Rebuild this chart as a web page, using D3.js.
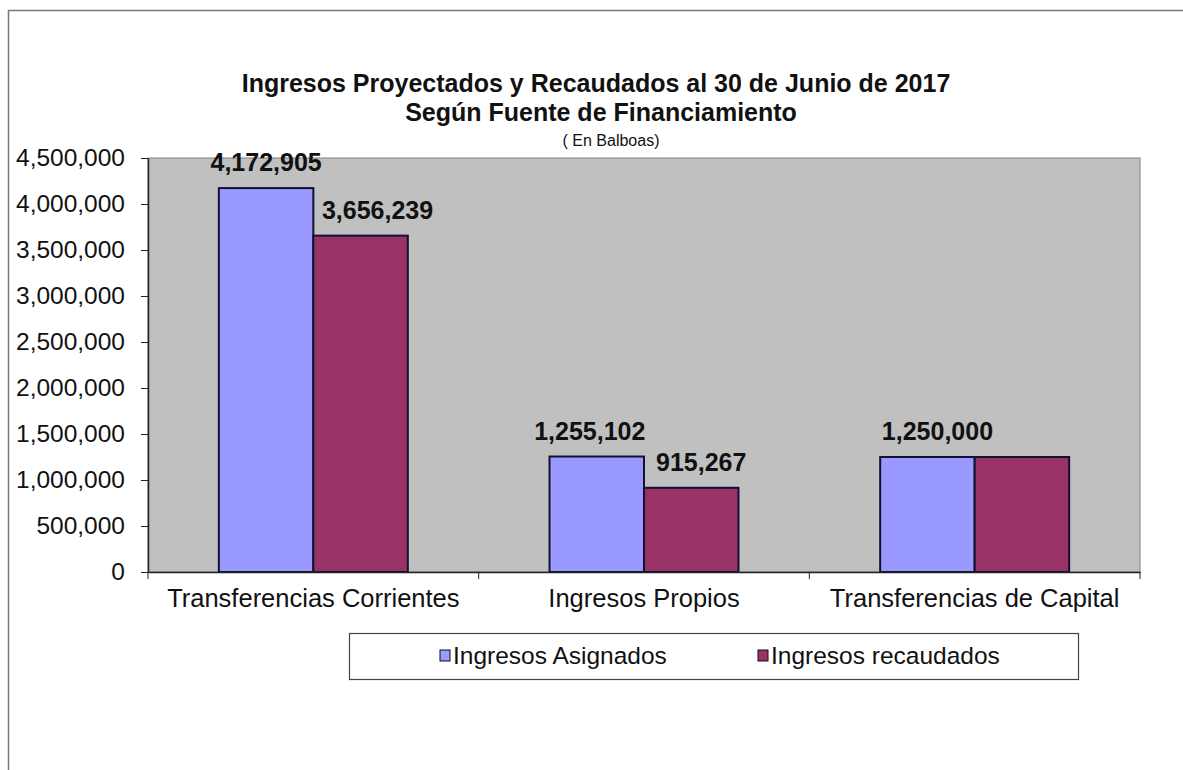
<!DOCTYPE html>
<html>
<head>
<meta charset="utf-8">
<script src="https://cdn.jsdelivr.net/npm/d3@7"></script>
<style>
  body { margin: 0; background: #fff; }
  text { font-family: "Liberation Sans", Arial, sans-serif; fill: #111; }
</style>
</head>
<body>
<svg id="chart"></svg>
<script>
const width = 1183;
const height = 770;
const margin = { top: 158, bottom: 198, left: 148, right: 43 };

// data
const categories = ["Transferencias Corrientes", "Ingresos Propios", "Transferencias de Capital"];
const seriesNames = ["Ingresos Asignados", "Ingresos recaudados"];
const asignados = [4172905, 1255102, 1250000];
const recaudados = [3656239, 915267, 1250000];
const yTicks = [0, 500000, 1000000, 1500000, 2000000, 2500000, 3000000, 3500000, 4000000, 4500000];
const colors = ["#9999FF", "#993366"];

const svg = d3.select("#chart")
    .attr("width", width)
    .attr("height", height);

// outer frame (left and top only visible)
svg.append("path")
    .attr("d", `M8.5,${height} V10.5 H${width}`)
    .attr("fill", "none")
    .attr("stroke", "#777")
    .attr("stroke-width", 1.5);

const x0 = d3.scaleBand()
    .domain(categories)
    .range([margin.left, width - margin.right])
    .paddingInner(0)
    .paddingOuter(0);

// Excel style gap width 150%
const x1 = d3.scaleBand()
    .domain(seriesNames)
    .range([0, x0.bandwidth()])
    .paddingInner(0)
    .paddingOuter(0.75);

const yScale = d3.scaleLinear()
    .domain([0, 4500000])
    .range([height - margin.bottom, margin.top]);

// plot area
svg.append("rect")
    .attr("x", margin.left)
    .attr("y", margin.top)
    .attr("width", width - margin.left - margin.right)
    .attr("height", yScale(0) - margin.top)
    .attr("fill", "#C0C0C0")
    .attr("stroke", "#808080")
    .attr("stroke-width", 1);

// titles
svg.append("text")
    .attr("x", 596).attr("y", 92)
    .attr("text-anchor", "middle")
    .attr("font-size", "25px").attr("font-weight", "bold")
    .text("Ingresos Proyectados y Recaudados al 30 de Junio de 2017");
svg.append("text")
    .attr("x", 601).attr("y", 121)
    .attr("text-anchor", "middle")
    .attr("font-size", "25px").attr("font-weight", "bold")
    .text("Según Fuente de Financiamiento");
svg.append("text")
    .attr("x", 611).attr("y", 146)
    .attr("text-anchor", "middle")
    .attr("font-size", "16px")
    .attr("fill", "#222")
    .text("( En Balboas)");

// bars
const rows = categories.map((c, i) => ({ cat: c, values: [asignados[i], recaudados[i]] }));

const groups = svg.append("g")
    .selectAll("g")
    .data(rows)
    .join("g")
    .attr("transform", d => `translate(${x0(d.cat)},0)`);

groups.selectAll("rect")
    .data(d => d.values.map((v, j) => ({ name: seriesNames[j], value: v, j: j })))
    .join("rect")
    .attr("x", d => x1(d.name))
    .attr("y", d => yScale(d.value))
    .attr("width", x1.bandwidth())
    .attr("height", d => yScale(0) - yScale(d.value))
    .attr("fill", d => colors[d.j])
    .attr("stroke", "#111133")
    .attr("stroke-width", 2);

// data labels (Excel nudged some of them, and hid the overlapped one)
const labelShift = [[0, 17], [-7, 10], [10, null]];
groups.selectAll("text.val")
    .data((d, i) => d.values.map((v, j) => ({ name: seriesNames[j], value: v, dx: labelShift[i][j] }))
        .filter(d => d.dx !== null))
    .join("text")
    .attr("class", "val")
    .attr("x", d => x1(d.name) + x1.bandwidth() / 2 + d.dx)
    .attr("y", d => yScale(d.value) - 17)
    .attr("text-anchor", "middle")
    .attr("font-size", "25px")
    .attr("font-weight", "bold")
    .text(d => d3.format(",")(d.value));

// y axis
const yAxis = svg.append("g")
    .attr("transform", `translate(${margin.left},0)`)
    .call(d3.axisLeft(yScale).tickValues(yTicks).tickFormat(d3.format(",")).tickSize(7).tickSizeOuter(0));
yAxis.select(".domain").attr("stroke", "#222").attr("stroke-width", 1.5);
yAxis.selectAll(".tick line").attr("stroke", "#222");
yAxis.selectAll(".tick text")
    .attr("font-family", "Liberation Sans, Arial, sans-serif")
    .attr("font-size", "24.5px")
    .attr("fill", "#222")
    .attr("x", -23)
    .attr("dy", "0.3em");

// x axis
const xAxis = svg.append("g")
    .attr("transform", `translate(0,${yScale(0)})`)
    .call(d3.axisBottom(x0).tickSize(0).tickSizeOuter(0));
xAxis.select(".domain").attr("stroke", "#222").attr("stroke-width", 1.5);
xAxis.selectAll(".tick text")
    .attr("font-family", "Liberation Sans, Arial, sans-serif")
    .attr("font-size", "25.5px")
    .attr("fill", "#222")
    .attr("y", 0)
    .attr("dy", 35);

// category separator ticks
svg.append("g")
    .selectAll("line")
    .data(categories.concat(["end"]))
    .join("line")
    .attr("x1", (d, i) => i < categories.length ? x0(d) : x0.range()[1])
    .attr("x2", (d, i) => i < categories.length ? x0(d) : x0.range()[1])
    .attr("y1", yScale(0))
    .attr("y2", yScale(0) + 7)
    .attr("stroke", "#222");

// legend
const legend = svg.append("g");
legend.append("rect")
    .attr("x", 349.5).attr("y", 633.5)
    .attr("width", 729).attr("height", 46)
    .attr("fill", "#fff")
    .attr("stroke", "#444")
    .attr("stroke-width", 1.2);

const legendX = [440, 758];
const item = legend.selectAll("g")
    .data(seriesNames)
    .join("g")
    .attr("transform", (d, i) => `translate(${legendX[i]},650)`);
item.append("rect")
    .attr("width", 10).attr("height", 11)
    .attr("fill", (d, i) => colors[i])
    .attr("stroke", "#111")
    .attr("stroke-width", 1);
item.append("text")
    .attr("x", 13).attr("y", 14)
    .attr("font-size", "24.5px")
    .attr("fill", "#222")
    .text(d => d);
</script>
</body>
</html>
